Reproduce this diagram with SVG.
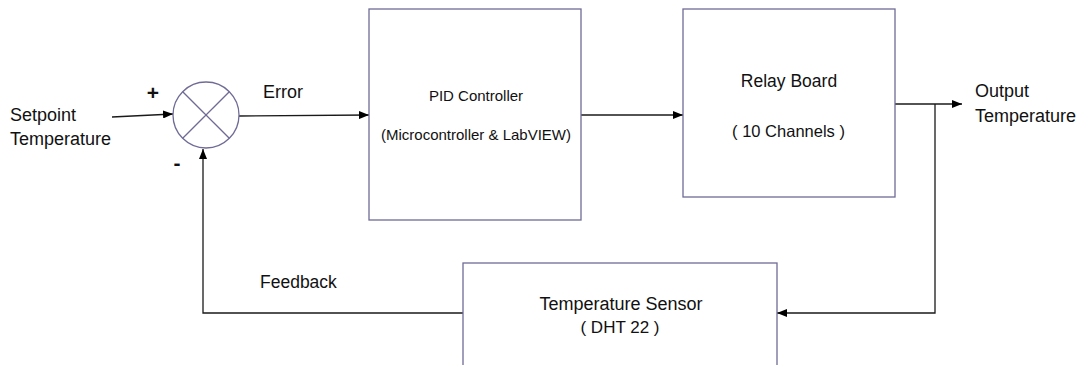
<svg xmlns="http://www.w3.org/2000/svg" width="1082" height="365" viewBox="0 0 1082 365">
  <style>
    .box { fill: #ffffff; stroke: #6f6b96; stroke-width: 1.3; }
    .wire { fill: none; stroke: #1a1a1a; stroke-width: 1.3; }
    .t { font-family: "Liberation Sans", Arial, sans-serif; font-size: 18px; fill: #111111; }
    .s { font-size: 15px; }
    .m { text-anchor: middle; }
  </style>
  <defs>
    <marker id="arr" viewBox="0 0 10 8" refX="10" refY="4" markerWidth="10" markerHeight="8" markerUnits="userSpaceOnUse" orient="auto">
      <path d="M0,0 L10,4 L0,8 Z" fill="#000000"/>
    </marker>
  </defs>
  <rect width="1082" height="365" fill="#ffffff"/>

  <g id="connectors">
    <line class="wire" x1="112" y1="117" x2="173" y2="114" marker-end="url(#arr)"/>
    <line class="wire" x1="239" y1="116" x2="369" y2="115" marker-end="url(#arr)"/>
    <line class="wire" x1="581" y1="115" x2="683" y2="115" marker-end="url(#arr)"/>
    <line class="wire" x1="895" y1="104" x2="962" y2="104" marker-end="url(#arr)"/>
    <polyline class="wire" points="935,104 935,313 777,313" marker-end="url(#arr)"/>
    <polyline class="wire" points="463,313 203,313 203,149" marker-end="url(#arr)"/>
  </g>

  <g id="setpoint-label">
    <text class="t" x="10" y="121">Setpoint</text>
    <text class="t" x="10" y="145">Temperature</text>
  </g>

  <g id="summing-junction">
    <circle cx="206" cy="115" r="33" fill="#ffffff" stroke="#6f6b96" stroke-width="1.3"/>
    <line x1="182.7" y1="91.7" x2="229.3" y2="138.3" stroke="#6f6b96" stroke-width="1.3"/>
    <line x1="229.3" y1="91.7" x2="182.7" y2="138.3" stroke="#6f6b96" stroke-width="1.3"/>
    <text class="t m" x="153" y="100" style="font-size:21px;font-weight:bold">+</text>
    <text class="t m" x="177" y="170" style="font-size:21px;font-weight:bold">-</text>
  </g>

  <g id="error-label">
    <text class="t" x="263" y="98">Error</text>
  </g>

  <g id="pid-controller">
    <rect class="box" x="369" y="9" width="212" height="211"/>
    <text class="t s m" x="476" y="101">PID Controller</text>
    <text class="t s m" x="476" y="140">(Microcontroller &amp; LabVIEW)</text>
  </g>

  <g id="relay-board">
    <rect class="box" x="683" y="9" width="212" height="188"/>
    <text class="t m" x="789" y="87" style="font-size:17.5px">Relay Board</text>
    <text class="t m" x="788.5" y="137" style="font-size:16.5px">( 10 Channels )</text>
  </g>

  <g id="output-label">
    <text class="t" x="975" y="97">Output</text>
    <text class="t" x="975" y="122">Temperature</text>
  </g>

  <g id="temperature-sensor">
    <rect class="box" x="463" y="263" width="314" height="120"/>
    <text class="t m" x="621" y="310">Temperature Sensor</text>
    <text class="t m" x="620" y="333" style="font-size:17px">( DHT 22 )</text>
  </g>

  <g id="feedback-label">
    <text class="t" x="260" y="288" style="font-size:17.5px">Feedback</text>
  </g>
</svg>
